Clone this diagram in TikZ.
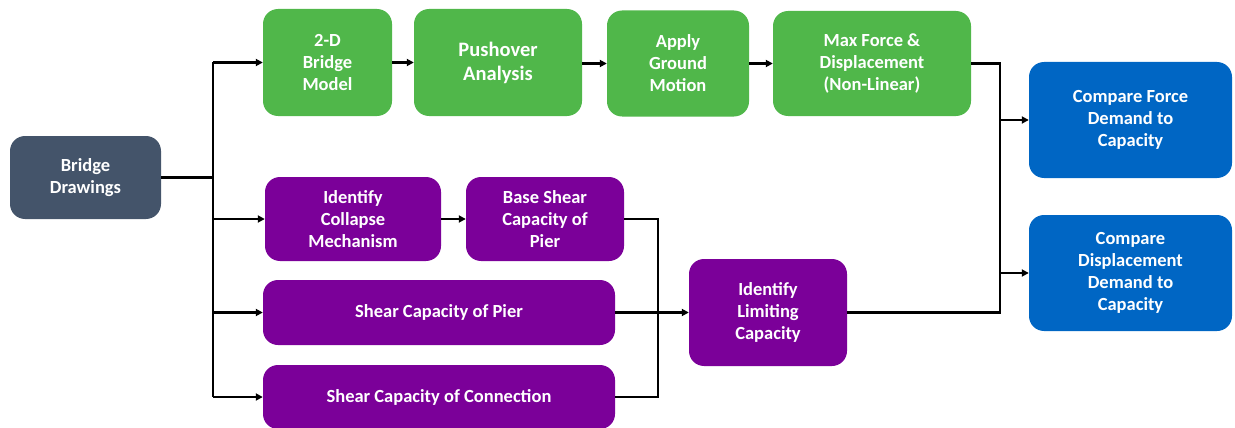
\documentclass[tikz,border=0pt]{standalone}
\usepackage{fontspec}
\setmainfont{Carlito}
\usetikzlibrary{arrows.meta}
\definecolor{cgreen}{RGB}{80,183,74}
\definecolor{cpurple}{RGB}{123,0,153}
\definecolor{cblue}{RGB}{0,102,196}
\definecolor{cslate}{RGB}{68,84,106}
\tikzset{
  box/.style={rounded corners=15pt, inner sep=0pt, align=center, text=white,
    font=\bfseries\fontsize{18.5}{22}\selectfont},
  bigtext/.style={font=\bfseries\fontsize{20.5}{24}\selectfont},
  gbox/.style={box, fill=cgreen},
  pbox/.style={box, fill=cpurple},
  bbox/.style={box, fill=cblue},
  sbox/.style={box, fill=cslate},
  line/.style={draw=black, line width=2.3pt},
  arr/.style={line, -{Triangle[length=7pt,width=7pt]}}
}
\begin{document}
\begin{tikzpicture}[x=1pt,y=-1pt]
\useasboundingbox (0,0) rectangle (1235,428);
% nodes
\node[sbox, minimum width=151pt, minimum height=83pt] (bd) at (85.5,177.5) {Bridge\\Drawings};
\node[gbox, minimum width=129pt, minimum height=107pt] (m2d) at (327.5,62.5) {2-D\\Bridge\\Model};
\node[gbox, bigtext, minimum width=168pt, minimum height=107pt] (po) at (498,62.5) {Pushover\\Analysis};
\node[gbox, minimum width=142pt, minimum height=106pt] (gm) at (678,63.5) {Apply\\Ground\\Motion};
\node[gbox, minimum width=198pt, minimum height=105pt] (mf) at (872,63.5) {Max Force \&\\Displacement\\(Non-Linear)};
\node[bbox, minimum width=203pt, minimum height=116pt] (cf) at (1130.5,120) {Compare Force\\Demand to\\Capacity};
\node[bbox, minimum width=203pt, minimum height=116pt] (cd) at (1130.5,273) {Compare\\Displacement\\Demand to\\Capacity};
\node[pbox, minimum width=176pt, minimum height=84pt] (cm) at (353,219) {Identify\\Collapse\\Mechanism};
\node[pbox, minimum width=158pt, minimum height=84pt] (bs) at (545,219) {Base Shear\\Capacity of\\Pier};
\node[pbox, minimum width=352pt, minimum height=65pt] (sp) at (439,312.5) {Shear Capacity of Pier};
\node[pbox, minimum width=352pt, minimum height=64pt] (sc) at (439,397) {Shear Capacity of Connection};
\node[pbox, minimum width=158pt, minimum height=107pt] (lim) at (768,312.5) {Identify\\Limiting\\Capacity};
% junction coordinates
\coordinate (j1) at (213,0);
\coordinate (j2) at (658,0);
\coordinate (j3) at (1000,0);
% left spine
\draw[line] (bd.east) -- (bd.east -| j1);
\draw[line] (j1 |- m2d.west) -- (j1 |- sc.west);
\draw[arr] (j1 |- m2d.west) -- (m2d.west);
\draw[arr] (j1 |- cm.west) -- (cm.west);
\draw[arr] (j1 |- sp.west) -- (sp.west);
\draw[arr] (j1 |- sc.west) -- (sc.west);
% green chain
\draw[arr] (m2d.east) -- (po.west);
\draw[arr] (po.east |- gm.west) -- (gm.west);
\draw[arr] (gm.east) -- (mf.west);
\draw[arr] (cm.east) -- (bs.west);
% middle junction
\draw[line] (bs.east) -| (j2 |- sc.east) -- (sc.east);
\draw[arr] (sp.east) -- (lim.west);
% right junction
\draw[line] (mf.east) -| (j3 |- lim.east) -- (lim.east);
\draw[arr] (j3 |- cf.west) -- (cf.west);
\draw[arr] (j3 |- cd.west) -- (cd.west);
\end{tikzpicture}
\end{document}
